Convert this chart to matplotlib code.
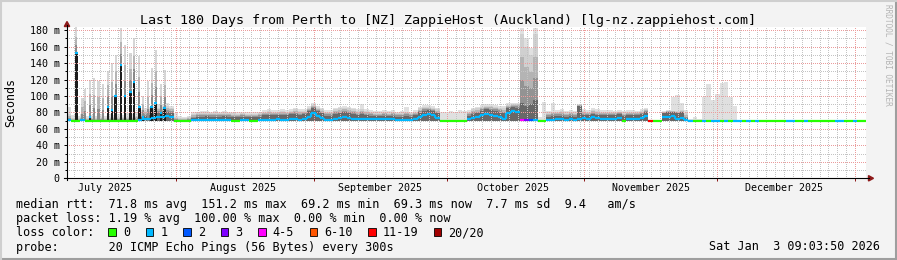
"""SmokePing style latency chart: Perth -> ZappieHost Auckland, last 180 days."""

from datetime import datetime

import matplotlib
matplotlib.use("Agg")
import matplotlib.pyplot as plt
import numpy as np
from matplotlib.collections import LineCollection
from matplotlib.lines import Line2D
from matplotlib.patches import Polygon, Rectangle

plt.rcParams["font.family"] = ["DejaVu Sans Mono"]

# ---- data (one value per day, ms) ----------------------------------------
MIN_RTT = 69.2

median_ms = [
    71, 69.7, 69.7, 70.5, 69.7, 69.7, 69.7, 69.7, 69.7, 69.7,
    69.7, 69.7, 69.7, 69.7, 69.7, 69.7, 71, 71.5, 72, 73,
    74, 75, 76, 75, 69.7, 69.7, 69.7, 69.7, 70.5, 71,
    71, 71, 71, 71, 70.5, 71, 71, 69.7, 69.7, 71,
    71, 69.7, 69.7, 71, 71, 71, 71, 71.5, 71, 71,
    71.5, 72, 71, 71.5, 74, 79, 76, 73, 71, 71,
    72, 73, 74, 73, 72, 72, 72.5, 72, 72, 72,
    71.5, 72, 71.5, 72, 71, 71, 71, 71, 72, 75,
    77, 78, 77, 73, 69.7, 69.7, 69.7, 69.7, 69.7, 69.7,
    71.5, 73, 74, 77, 78, 77, 76, 74, 72, 79,
    82, 80, 70.5, 70.5, 70.5, 70.5, 69.7, 69.7, 71, 71,
    71.5, 72, 71, 71.5, 71, 72, 73, 72, 74, 73,
    72, 72, 71.5, 72, 73, 69.7, 72, 71.5, 72, 73,
    76, 69.7, 69.7, 69.7, 74, 75, 76, 72, 73, 71,
    69.8, 69.8, 69.8, 69.8, 69.8, 69.8, 69.8, 69.8, 69.8, 69.8,
    69.8, 69.8, 69.8, 69.8, 69.8, 69.8, 69.8, 69.8, 69.8, 69.8,
    69.8, 69.8, 69.8, 69.8, 69.8, 69.8, 69.8, 69.8, 69.8, 69.8,
    69.8, 69.8, 69.8, 69.8, 69.8, 69.8, 69.8, 69.8, 69.8, 69.8,
]

# loss colour class per day (index into LOSS_COLORS)
loss_class = [
    1, 0, 0, 1, 0, 0, 0, 0, 0, 0,
    0, 0, 0, 0, 0, 0, 1, 1, 1, 1,
    1, 1, 1, 1, 0, 0, 0, 0, 1, 1,
    1, 1, 1, 1, 1, 1, 1, 0, 0, 1,
    1, 0, 0, 1, 1, 1, 1, 1, 1, 1,
    1, 1, 1, 1, 1, 1, 1, 1, 1, 1,
    1, 1, 1, 1, 1, 1, 1, 1, 1, 1,
    1, 1, 1, 1, 1, 1, 1, 1, 1, 1,
    1, 1, 1, 1, 0, 0, 0, 0, 0, 0,
    1, 1, 1, 1, 1, 1, 1, 1, 1, 1,
    1, 1, 4, 3, 2, 1, 0, 0, 1, 1,
    1, 1, 1, 1, 1, 1, 1, 1, 1, 1,
    1, 1, 1, 1, 1, 0, 1, 1, 1, 1,
    1, 6, 0, 0, 1, 1, 1, 1, 1, 1,
    1, 0, 0, 1, 0, 1, 1, 0, 1, 0,
    1, 1, 0, 1, 0, 1, 0, 0, 0, 0,
    0, 0, 1, 1, 0, 0, 1, 0, 0, 0,
    0, 0, 0, 1, 1, 0, 0, 1, 0, 0,
]

# top of the dense (dark) smoke
smoke_dark = [
    71.5, 70.5, 70.5, 71, 70.5, 70.5, 70.5, 70.5, 70.5, 70.5,
    70.5, 70.5, 70.5, 71, 71, 71, 74, 76, 77, 78,
    79, 80, 80, 79, 70.5, 70.5, 70.5, 70.5, 73, 75,
    75, 76, 75, 75, 75, 76, 75, 74, 74, 75,
    75, 74, 74, 75, 77, 77, 77, 77, 77, 77,
    78, 78, 77, 78, 82, 85, 82, 79, 76, 76,
    78, 79, 80, 79, 78, 77, 78, 77, 76, 76,
    76, 76, 76, 76, 75, 75, 76, 75, 77, 80,
    82, 83, 82, 79, 70.5, 70.5, 70.5, 70.5, 70.5, 70.5,
    76, 78, 79, 82, 84, 83, 82, 81, 79, 85,
    87, 86, 92, 88, 90, 95, 70.5, 70.5, 75, 76,
    76, 76, 75, 76, 75, 88, 77, 77, 78, 77,
    77, 77, 77, 77, 78, 76, 77, 77, 77, 78,
    80, 69.8, 69.8, 69.8, 79, 80, 80, 79, 80, 73,
    69.8, 69.8, 69.8, 69.8, 69.8, 69.8, 69.8, 69.8, 69.8, 69.8,
    69.8, 69.8, 69.8, 69.8, 69.8, 69.8, 69.8, 69.8, 69.8, 69.8,
    69.8, 69.8, 69.8, 69.8, 69.8, 69.8, 69.8, 69.8, 69.8, 69.8,
    69.8, 69.8, 69.8, 69.8, 69.8, 69.8, 69.8, 69.8, 69.8, 69.8,
]

# top of the graded grey smoke
smoke_grey = [
    78, 73, 73, 74, 73, 74, 73, 74, 73, 74,
    74, 74, 75, 75, 75, 76, 80, 82, 84, 85,
    86, 87, 88, 86, 74, 73, 73, 74, 78, 80,
    80, 80, 79, 80, 79, 80, 79, 79, 78, 79,
    78, 78, 78, 79, 81, 82, 81, 81, 82, 81,
    82, 84, 82, 82, 86, 89, 86, 84, 81, 81,
    84, 85, 86, 85, 84, 82, 84, 82, 81, 80,
    80, 81, 80, 81, 79, 80, 81, 79, 81, 85,
    87, 87, 86, 84, 71, 71, 71, 71, 71, 71,
    81, 84, 85, 87, 88, 88, 87, 86, 85, 89,
    90, 90, 175, 160, 150, 175, 71, 71, 80, 81,
    81, 82, 80, 81, 80, 89, 82, 81, 83, 82,
    81, 81, 81, 80, 81, 80, 81, 81, 80, 82,
    84, 69.8, 69.8, 69.8, 81, 82, 82, 82, 83, 79,
    69.8, 69.8, 69.8, 69.8, 69.8, 69.8, 69.8, 69.8, 69.8, 69.8,
    69.8, 69.8, 69.8, 69.8, 69.8, 69.8, 69.8, 69.8, 69.8, 69.8,
    69.8, 69.8, 69.8, 69.8, 69.8, 69.8, 69.8, 69.8, 69.8, 69.8,
    69.8, 69.8, 69.8, 69.8, 69.8, 69.8, 69.8, 69.8, 69.8, 69.8,
]

# top of the faint outer smoke (max ping)
smoke_haze = [
    87, 77, 76, 78, 76, 77, 76, 78, 76, 78,
    77, 78, 77, 79, 78, 80, 83, 85, 87, 88,
    90, 90, 91, 88, 79, 76, 75, 76, 80, 81,
    82, 82, 81, 82, 81, 82, 81, 81, 80, 81,
    80, 80, 80, 81, 83, 84, 83, 83, 84, 83,
    84, 86, 84, 84, 88, 91, 88, 86, 83, 83,
    86, 87, 88, 87, 86, 84, 90, 84, 83, 82,
    82, 83, 82, 83, 81, 82, 87, 81, 83, 87,
    89, 89, 88, 86, 81, 80, 82, 81, 83, 82,
    83, 86, 87, 89, 90, 90, 89, 88, 88, 91,
    92, 92, 183, 170, 158, 183, 74, 93, 82, 92,
    83, 84, 82, 83, 82, 90, 84, 83, 85, 84,
    83, 83, 83, 82, 83, 82, 83, 83, 82, 84,
    85, 69.8, 69.8, 69.8, 82, 83, 99, 101, 92, 83,
    72, 74, 72, 99, 115, 95, 103, 116, 117, 99,
    88, 69.8, 69.8, 69.8, 69.8, 69.8, 69.8, 69.8, 69.8, 69.8,
    69.8, 69.8, 69.8, 69.8, 69.8, 69.8, 69.8, 69.8, 69.8, 69.8,
    69.8, 69.8, 69.8, 69.8, 69.8, 69.8, 69.8, 69.8, 69.8, 69.8,
]

# short daily spikes in July (day offset, median peak, max ping)
spike_day = [2.1, 3.5, 4.1, 5.2, 6.0, 7.1, 8.1, 9.2, 10.1, 11.0, 12.2,
             13.1, 14.3, 15.1, 16.3, 17.1, 18.2, 19.1, 20.0, 21.2, 22.0]
spike_median = [152, 70, 70, 75, 70, 70, 70, 87, 83, 100, 138,
                100, 105, 117, 87, 75, 70, 87, 92, 79, 85]
spike_max = [184, 97, 109, 120, 122, 118, 115, 130, 140, 150, 183,
             162, 152, 170, 148, 100, 118, 134, 156, 114, 132]

LOSS_LABELS = ["0", "1", "2", "3", "4-5", "6-10", "11-19", "20/20"]
LOSS_COLORS = ["#26ff00", "#00b8ff", "#0059ff", "#7e00ff",
               "#ff00fe", "#ff5500", "#ff0000", "#a10000"]

MONTHS = ["July 2025", "August 2025", "September 2025",
          "October 2025", "November 2025", "December 2025"]

# ---- layout ---------------------------------------------------------------
W, H = 897, 260
PLOT_L, PLOT_R, PLOT_T, PLOT_B = 67, 866, 27, 178.3
AXIS_RED = "#8e1a1a"


def fx(x):
    return x / W


def fy(y):
    return 1 - y / H


fig = plt.figure(figsize=(W / 100, H / 100), dpi=100, facecolor="#f3f3f3")
ax = fig.add_axes([fx(PLOT_L), fy(PLOT_B), (PLOT_R - PLOT_L) / W, (PLOT_B - PLOT_T) / H])
ax.set_facecolor("white")
ax.set_xlim(0, 180)
ax.set_ylim(0, 183.8)
for s in ax.spines.values():
    s.set_visible(False)

start = datetime(2025, 7, 7, 11, 0)


def day_of(dt):
    return (dt - start).total_seconds() / 86400


month_starts = [day_of(datetime(2025, m, 1)) for m in range(8, 13)] + [day_of(datetime(2026, 1, 1))]
label_pos = [day_of(datetime(2025, m, 16)) for m in range(7, 13)]
jan1 = day_of(datetime(2026, 1, 1))
minor_days = [d for d in jan1 - 2 * np.arange(0, 91) if 0 < d < 180]

# ---- smoke ----------------------------------------------------------------
edges = np.arange(len(median_ms) + 1)
dark = np.array(smoke_dark, dtype=float)
grey = np.array(smoke_grey, dtype=float)
haze = np.array(smoke_haze, dtype=float)

ax.stairs(haze, edges, baseline=MIN_RTT, fill=True, color="#e0e0e0", lw=0, zorder=1)
for frac, col in [(1.0, "#d0d0d0"), (0.66, "#b4b4b4"), (0.33, "#939393")]:
    ax.stairs(dark + frac * (grey - dark), edges, baseline=MIN_RTT, fill=True,
              color=col, lw=0, zorder=1)
ax.stairs(dark, edges, baseline=MIN_RTT, fill=True, color="#686868", lw=0, zorder=1)

# July spikes
sd = np.array(spike_day)
smed = np.array(spike_median, dtype=float)
smax = np.array(spike_max, dtype=float)
for frac, col in [(1.0, "#d6d6d6"), (0.6, "#b4b4b4"), (0.3, "#8a8a8a")]:
    top = smed + frac * (smax - smed)
    ax.bar(sd, top - MIN_RTT, bottom=MIN_RTT, width=0.5, color=col, lw=0, zorder=1.2)
big = smed > 72
ax.bar(sd[big], smed[big] - MIN_RTT, bottom=MIN_RTT, width=0.6, color="#1c1c1c",
       lw=0, zorder=1.3)

# ---- grid (crisp 1px dotted lines) -----------------------------------------
dot = (0, (1, 1.4))
for d in minor_days:
    ax.axvline(d, color="#c4c4c4", lw=0.72, ls=dot, antialiased=False, zorder=2)
for v in range(10, 181, 20):
    ax.axhline(v, color="#c4c4c4", lw=0.72, ls=dot, antialiased=False, zorder=2)
for d in month_starts:
    ax.axvline(d, color="#eb9c9c", lw=0.72, ls=dot, antialiased=False, zorder=2.1)
for v in range(20, 181, 20):
    ax.axhline(v, color="#eb9c9c", lw=0.72, ls=dot, antialiased=False, zorder=2.1)

# ---- median line coloured by loss ------------------------------------------
segs, cols = [], []
for i, (m, lc) in enumerate(zip(median_ms, loss_class)):
    segs.append([(i, m), (i + 1, m)])
    cols.append(LOSS_COLORS[lc])
    if i > 0 and loss_class[i - 1] == lc and median_ms[i - 1] != m:
        segs.append([(i, median_ms[i - 1]), (i, m)])
        cols.append(LOSS_COLORS[lc])
ax.add_collection(LineCollection(segs, colors=cols, linewidths=1.6, capstyle="butt", zorder=4))
ax.hlines(smed[big], sd[big] - 0.3, sd[big] + 0.3, colors=LOSS_COLORS[1], lw=1.6, zorder=4)

# ---- ticks ----------------------------------------------------------------
yt = list(range(0, 181, 20))
ax.set_yticks(yt)
ax.set_yticklabels([f"{v} m" if v else "0" for v in yt])
ax.set_yticks(list(range(10, 181, 20)), minor=True)
ax.tick_params(axis="y", which="major", length=2.2, width=0.72, pad=3.2,
               labelsize=7.2, colors="#000000")
ax.tick_params(axis="y", which="minor", length=1.5, width=0.72, colors="#000000")
ax.set_xticks(label_pos)
ax.set_xticklabels(MONTHS)
ax.set_xticks(month_starts, minor=True)
ax.tick_params(axis="x", which="major", length=0, pad=3.5, labelsize=7.2)
ax.tick_params(axis="x", which="minor", length=2.2, width=0.72, colors=AXIS_RED)

# ---- axes lines and arrows ---------------------------------------------------
fig.add_artist(Line2D([fx(PLOT_L), fx(PLOT_L)], [fy(PLOT_B + 2), fy(25)],
                      color="#000000", lw=0.8, transform=fig.transFigure))
fig.add_artist(Line2D([fx(PLOT_L - 3), fx(869)], [fy(PLOT_B), fy(PLOT_B)],
                      color="#000000", lw=0.8, transform=fig.transFigure))
fig.add_artist(Polygon([(fx(64.3), fy(26.5)), (fx(69.7), fy(26.5)), (fx(67), fy(21.5))],
                       closed=True, color=AXIS_RED, transform=fig.transFigure))
fig.add_artist(Polygon([(fx(868.5), fy(175.6)), (fx(868.5), fy(181)), (fx(873.5), fy(PLOT_B))],
                       closed=True, color=AXIS_RED, transform=fig.transFigure))

# ---- texts ----------------------------------------------------------------
fig.text(fx(448), fy(24), "Last 180 Days from Perth to [NZ] ZappieHost (Auckland) "
         "[lg-nz.zappiehost.com]", ha="center", va="baseline", fontsize=9.6)
fig.text(fx(11), fy(102.5), "Seconds", rotation=90, ha="center", va="center", fontsize=8.4)
fig.text(fx(888), fy(4), "RRDTOOL / TOBI OETIKER", rotation=270, ha="center", va="top",
         fontsize=5.6, color="#b4b4b4")

LEG = 8.45
fig.text(fx(16), fy(208.3), "median rtt:  71.8 ms avg  151.2 ms max  69.2 ms min  "
         "69.3 ms now  7.7 ms sd  9.4   am/s", fontsize=LEG, va="baseline")
fig.text(fx(16), fy(222.4), "packet loss: 1.19 % avg  100.00 % max  0.00 % min  "
         "0.00 % now", fontsize=LEG, va="baseline")
fig.text(fx(16), fy(236.5), "loss color:", fontsize=LEG, va="baseline")
fig.text(fx(16), fy(250.5), "probe:       20 ICMP Echo Pings (56 Bytes) every 300s",
         fontsize=LEG, va="baseline")
fig.text(fx(880), fy(250.5), "Sat Jan  3 09:03:50 2026", fontsize=LEG, va="baseline",
         ha="right")

bx = 108.3
for lab, col in zip(LOSS_LABELS, LOSS_COLORS):
    fig.add_artist(Rectangle((fx(bx), fy(235.8)), 7.4 / W, 7.4 / H, facecolor=col,
                             edgecolor="#000000", lw=0.6, transform=fig.transFigure))
    fig.text(fx(bx + 14.7), fy(236.5), lab, fontsize=LEG, va="baseline")
    bx += 14.7 + 7.05 * len(lab) + 15.7

# ---- image border ---------------------------------------------------------
fig.add_artist(Line2D([0, 1], [fy(259), fy(259)], color="#9e9e9e", lw=1.5,
                      transform=fig.transFigure))
fig.add_artist(Line2D([fx(896), fx(896)], [0, 1], color="#9e9e9e", lw=1.5,
                      transform=fig.transFigure))
fig.add_artist(Line2D([0, 1], [fy(0.7), fy(0.7)], color="#cfcfcf", lw=1.5,
                      transform=fig.transFigure))
fig.add_artist(Line2D([fx(0.7), fx(0.7)], [0, 1], color="#cfcfcf", lw=1.5,
                      transform=fig.transFigure))

fig.savefig("out.png", dpi=100, facecolor=fig.get_facecolor())
